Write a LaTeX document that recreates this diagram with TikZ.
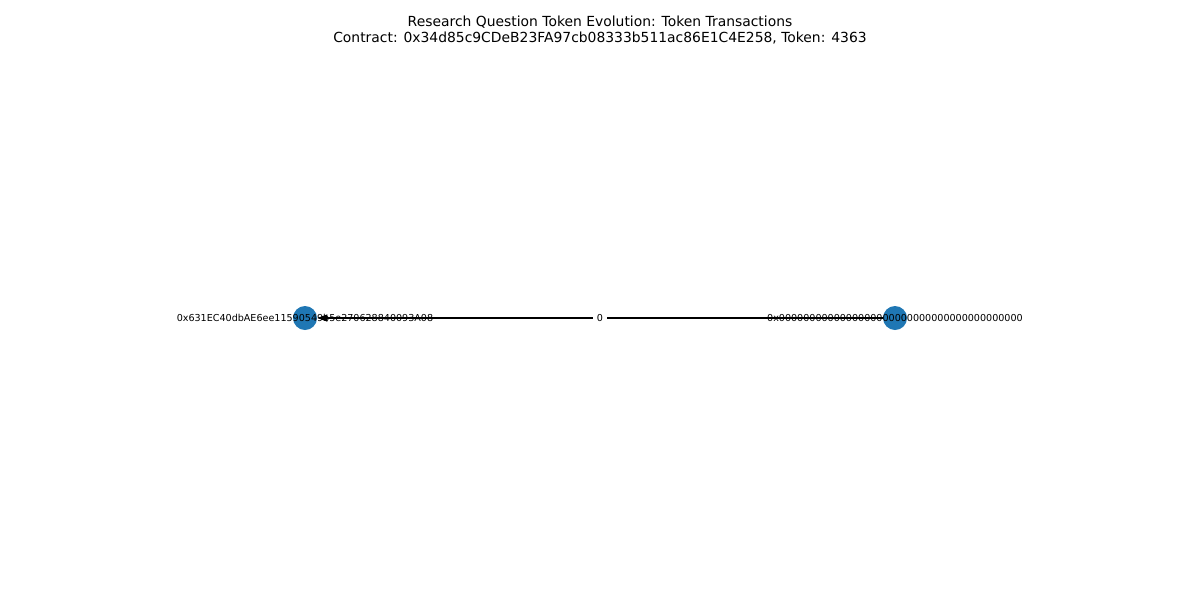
\documentclass[tikz,border=0pt]{standalone}
\usepackage{fontspec}
\setmainfont{DejaVu Sans}
\usetikzlibrary{arrows.meta}
\definecolor{nodeblue}{HTML}{1F77B4}
\tikzset{
  dot/.style={circle, fill=nodeblue, draw=none, minimum size=24*0.72pt, inner sep=0pt},
  edge/.style={draw=black, line width=0.75pt, -{Stealth[length=7.2pt, width=5pt, inset=0pt]}},
  lbl/.style={font=\fontsize{6.9}{8}\selectfont, inner sep=0pt},
  elbl/.style={font=\fontsize{6.9}{8}\selectfont, fill=white, inner sep=3pt},
  ttl/.style={font=\fontsize{10}{11.5}\selectfont, align=center, inner sep=0pt}
}
\begin{document}
\begin{tikzpicture}[x=0.72pt, y=-0.72pt]
\useasboundingbox (0,0) rectangle (1200,600);
\node[ttl] (title) at (600,30) {Research Question Token Evolution: Token Transactions\\Contract: 0x34d85c9CDeB23FA97cb08333b511ac86E1C4E258, Token: 4363};
\node[dot] (a) at (305,318) {};
\node[dot] (b) at (895,318) {};
\draw[edge] (b) -- node[elbl] (e) {0} (a);
\node[lbl] (la) at (a) {0x631EC40dbAE6ee11590549b5e270628840093A08};
\node[lbl] (lb) at (b) {0x0000000000000000000000000000000000000000};
\end{tikzpicture}
\end{document}
